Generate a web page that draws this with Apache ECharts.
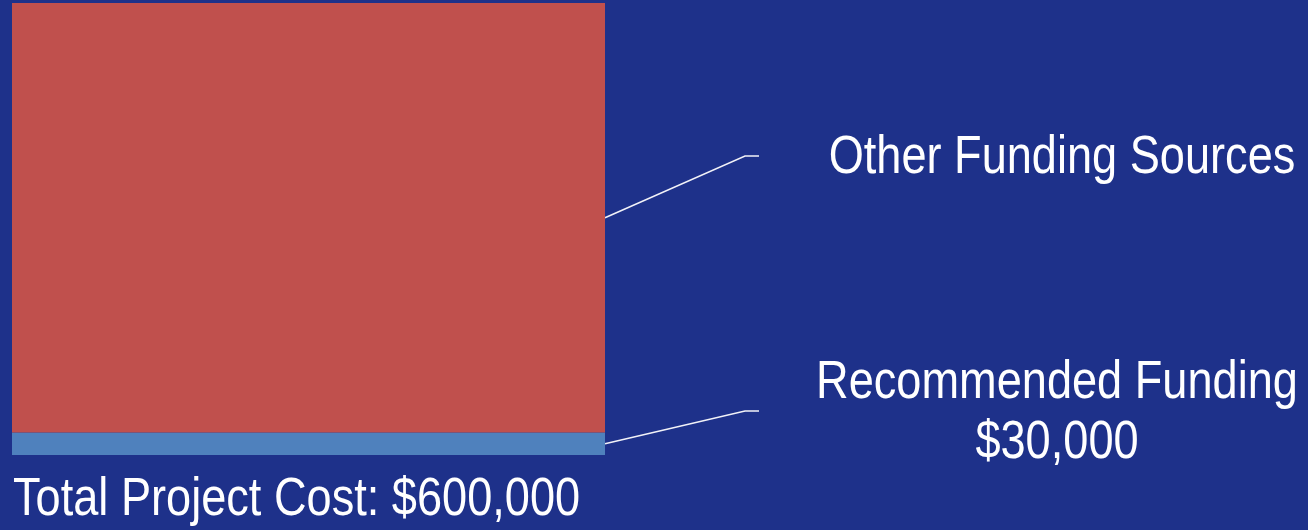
<!DOCTYPE html>
<html>
<head>
<meta charset="utf-8">
<script src="https://cdn.jsdelivr.net/npm/echarts@6/dist/echarts.min.js"></script>
<style>
html, body { margin: 0; padding: 0; background: #1e318a; }
#main { width: 1308px; height: 530px; }
</style>
</head>
<body>
<div id="main"></div>
<script>
// one stacked column, two funding parts
var categories = ['Total Project Cost: $600,000'];
var recommendedFunding = [30000];
var otherFunding = [570000];
var labelTexts = ['Other Funding Sources', 'Recommended Funding\n$30,000'];

var FONT = '"Liberation Sans", Arial, sans-serif';
var NARROW = 0.836; // the original text is squeezed horizontally

var myChart = echarts.init(document.getElementById('main'));

var option = {
    backgroundColor: '#1e318a',
    animation: false,
    grid: { left: 12, right: 703, top: 3, bottom: 75 },
    xAxis: {
        type: 'category',
        data: categories,
        axisLine: { show: false },
        axisTick: { show: false },
        axisLabel: { show: false }
    },
    yAxis: {
        type: 'value',
        min: 0,
        max: 600000,
        show: false,
        splitLine: { show: false }
    },
    series: [
        {
            name: 'Recommended Funding',
            type: 'bar',
            stack: 'cost',
            barWidth: '100%',
            data: recommendedFunding,
            itemStyle: { color: '#4f81bd' }
        },
        {
            name: 'Other Funding Sources',
            type: 'bar',
            stack: 'cost',
            barWidth: '100%',
            data: otherFunding,
            itemStyle: { color: '#c0504d' }
        }
    ]
};
myChart.setOption(option);

// leader lines from the middle of each part to its label
var rect = myChart.getModel().getComponent('grid').coordinateSystem.getRect();
var barRight = rect.x + rect.width;
var midOther = myChart.convertToPixel({ yAxisIndex: 0 }, recommendedFunding[0] + otherFunding[0] / 2);
var midRec = myChart.convertToPixel({ yAxisIndex: 0 }, recommendedFunding[0] / 2);

var labelXs = [1062, 1057];
var elbowX = 745, endX = 759;
var elbowYs = [156, 411];
var textYs = [158, 413];
var mids = [midOther, midRec];

var graphics = [];
for (var i = 0; i < 2; i++) {
    graphics.push({
        type: 'polyline',
        shape: { points: [[barRight, mids[i]], [elbowX, elbowYs[i]], [endX, elbowYs[i]]] },
        style: { stroke: '#f2f2f8', lineWidth: 1.5, fill: null }
    });
    graphics.push({
        type: 'text',
        x: labelXs[i],
        y: textYs[i],
        scaleX: NARROW,
        style: {
            text: labelTexts[i],
            fill: '#fff',
            font: '54px ' + FONT,
            align: 'center',
            verticalAlign: 'middle',
            lineHeight: 60
        }
    });
}
// category name under the column
graphics.push({
    type: 'text',
    x: rect.x + 1,
    y: 500,
    scaleX: NARROW,
    style: {
        text: categories[0],
        fill: '#fff',
        font: '54px ' + FONT,
        align: 'left',
        verticalAlign: 'middle'
    }
});
myChart.setOption({ graphic: graphics });
</script>
</body>
</html>
